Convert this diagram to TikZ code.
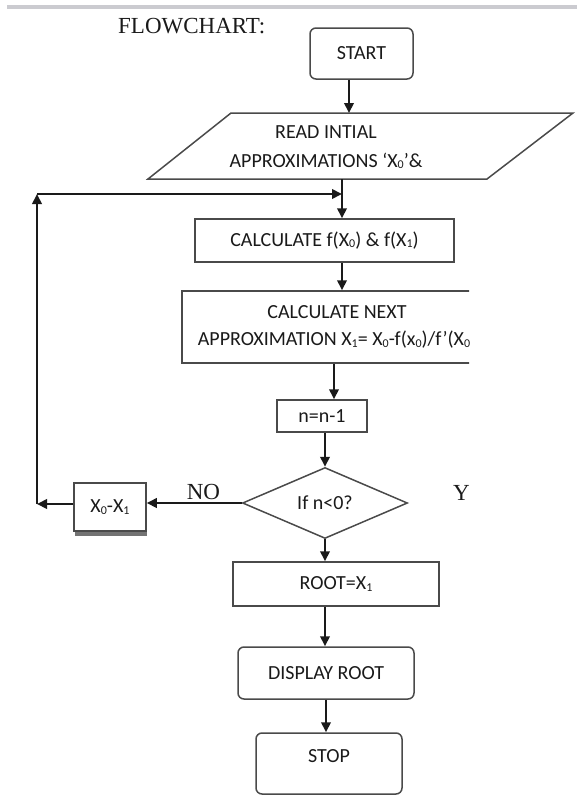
\documentclass[tikz,border=0pt]{standalone}
\usepackage{fontspec}
\setmainfont{Carlito}
\newfontfamily\titlefont{Liberation Serif}
\usepackage{tikz}
\usetikzlibrary{arrows.meta,calc,positioning,shapes.geometric,shadows}
\definecolor{RuleGray}{HTML}{CBCBD0}
\definecolor{EdgeGray}{HTML}{4A4A4A}
\definecolor{InkDark}{HTML}{1A1A1A}
\newcommand{\lowdig}[1]{\raisebox{-1.5pt}{\fontsize{12}{12}\selectfont #1}}

\begin{document}
\begin{tikzpicture}[
  x=1pt,y=-1pt,
  every node/.style={font=\fontsize{20}{27}\selectfont,text=InkDark,inner sep=0pt},
  box/.style={draw=EdgeGray,line width=1.5pt,fill=white,align=center},
  rbox/.style={box,rounded corners=6pt},
  arr/.style={-{Triangle[length=10pt,width=9.5pt]},line width=2pt,InkDark},
  serif/.style={font=\titlefont\fontsize{23}{27}\selectfont}
]
  \useasboundingbox (0,0) rectangle (577,795);
  \draw[RuleGray,line width=4pt] (7,7) -- (577,7);
  \node[serif,anchor=base west] (title) at (118,33) {FLOWCHART:};

  \node[rbox,minimum width=103pt,minimum height=51pt] (start) at (361.5,53.5) {START};

  % input
  \draw[EdgeGray,line width=1.5pt] (231,113) -- (573,113) -- (487,179) -- (148,179) -- cycle;
  \node[align=center,font=\fontsize{20}{29}\selectfont] (read) at (326,147)
    {READ INTIAL\\APPROXIMATIONS ‘X\lowdig{0}’\&};
  \coordinate (readin) at (349,113);
  \coordinate (readout) at (342,179);

  \node[box,minimum width=259pt,minimum height=43pt] (calc) at (324.5,240.5)
    {CALCULATE f(X\lowdig{0}) \& f(X\lowdig{1})};
  \begin{scope}
    \clip (0,0) rectangle (469,795);
    \node[box,minimum width=310pt,minimum height=72pt] (next) at (337,327)
      {CALCULATE NEXT\\APPROXIMATION X\lowdig{1}= X\lowdig{0}-f(x\lowdig{0})/f’(X\lowdig{0})};
    \node[serif,anchor=base west] (yes) at (453,500) {YES};
  \end{scope}

  \node[box,minimum width=90pt,minimum height=32pt] (nbox) at (322,416) {n=n-1};
  \node[box,diamond,aspect=2.3,minimum width=165pt,minimum height=71pt] (test) at (325,503) {If n<0?};
  \node[box,minimum width=72pt,minimum height=48pt,
        drop shadow={shadow xshift=1pt,shadow yshift=-5pt,fill=black!55,opacity=1}] (swap) at (110,507)
    {X\lowdig{0}-X\lowdig{1}};
  \node[serif] (no) at (203.5,492) {NO};

  \node[box,minimum width=206pt,minimum height=44pt] (root) at (336,584) {ROOT=X\lowdig{1}};
  \node[rbox,minimum width=176pt,minimum height=52pt] (disp) at (326,673) {DISPLAY ROOT};
  \node[rbox,minimum width=146pt,minimum height=61pt,text height=20pt,text depth=22pt] (stop) at (329,763.5) {STOP};

  % loop back
  \coordinate (loopdn) at (37,504);
  \coordinate (loopup) at (37,194);
  \coordinate (join) at (342,194);

  \draw[arr] (readin |- start.south) -- (readin);
  \draw[arr] (readout) -- (readout |- calc.north);
  \draw[arr] (readout |- calc.south) -- (readout |- next.north);
  \draw[arr] ([xshift=-3pt]next.south) -- ([xshift=-3pt]next.south |- nbox.north);
  \draw[arr] (test.north |- nbox.south) -- (test.north);
  \draw[arr] (test.west) -- (test.west -| swap.east);
  \draw[arr] (swap.west |- loopdn) -- (loopdn);
  \draw[arr] (loopdn) -- (loopup);
  \draw[arr] (loopup) -- (join);
  \draw[arr] (test.south) -- (test.south |- root.north);
  \draw[arr] ([xshift=-11pt]root.south) -- ([xshift=-11pt]root.south |- disp.north);
  \draw[arr] (disp.south) -- (disp.south |- stop.north);
\end{tikzpicture}
\end{document}
